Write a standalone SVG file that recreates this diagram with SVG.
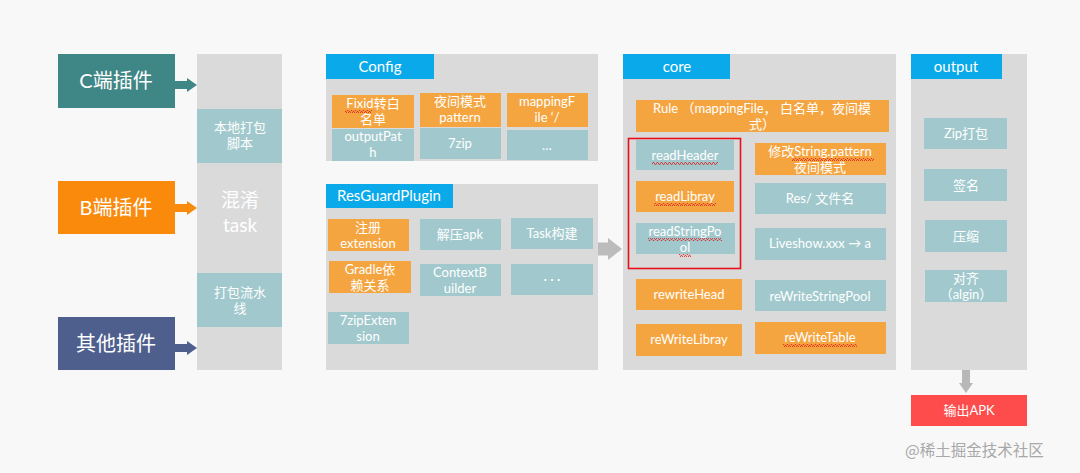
<svg xmlns="http://www.w3.org/2000/svg" width="1080" height="473" viewBox="0 0 1080 473">
<defs>
<style>
.bg{fill:#f8f8f8}
.panel{fill:#dadada}
.hdr{fill:#0aa9ea}
.teal{fill:#a1c9cd}
.org{fill:#f5a540}
.t{font-family:Lato,"Noto Sans","Noto Sans CJK SC",sans-serif;fill:#ffffff;text-anchor:middle}
.s{font-size:13px}
.h{font-size:15px}
.big{font-size:20px}
.sq{fill:url(#squig)}
</style>
<pattern id="squig" width="4" height="3" patternUnits="userSpaceOnUse">
<path d="M0,2.5 L1,0.5 L2,0.5 L3,2.5 L4,2.5" fill="none" stroke="#e02020" stroke-width="0.8"/>
</pattern>
</defs>
<rect class="bg" x="0" y="0" width="1080" height="473"/>

<g id="connectors">
<path d="M175,85 H188" stroke="#3f8686" stroke-width="8" fill="none"/>
<path d="M187,78 L197,85 L187,92 z" fill="#3f8686"/>
<path d="M175,208 H188" stroke="#f98a0c" stroke-width="8" fill="none"/>
<path d="M187,201 L197,208 L187,215 z" fill="#f98a0c"/>
<path d="M175,348 H188" stroke="#4e5f8e" stroke-width="8" fill="none"/>
<path d="M187,341 L197,348 L187,355 z" fill="#4e5f8e"/>
<path d="M598,249 H609" stroke="#bcbcbc" stroke-width="13" fill="none"/>
<path d="M608,238 L622,249 L608,260 z" fill="#bcbcbc"/>
<path d="M966,370 V384" stroke="#b8b8b8" stroke-width="8" fill="none"/>
<path d="M959,383 L966,393 L973,383 z" fill="#b8b8b8"/>
</g>

<g id="c-plugin"><rect x="58" y="54" width="117" height="54" fill="#3f8686"/><text class="t big" x="116" y="88">C端插件</text></g>
<g id="b-plugin"><rect x="58" y="181" width="117" height="53" fill="#f98a0c"/><text class="t big" x="116" y="215">B端插件</text></g>
<g id="other-plugin"><rect x="58" y="317" width="117" height="53" fill="#4e5f8e"/><text class="t big" x="116" y="351">其他插件</text></g>

<g id="task-column">
<rect class="panel" x="197" y="54" width="85" height="316"/>
<rect class="teal" x="197" y="109" width="85" height="54"/>
<text class="t s" x="240" y="132">本地打包</text><text class="t s" x="240" y="148">脚本</text>
<text class="t" x="240" y="207" font-size="19">混淆</text>
<text class="t" x="240" y="232" font-size="19">task</text>
<rect class="teal" x="197" y="273" width="85" height="54"/>
<text class="t s" x="240" y="297">打包流水</text><text class="t s" x="240" y="313">线</text>
</g>

<g id="config">
<rect class="panel" x="326" y="54" width="272" height="107"/>
<rect class="hdr" x="326" y="54" width="108" height="25"/>
<text class="t h" x="380" y="72">Config</text>
<rect class="org" x="332" y="95" width="82" height="33"/>
<text class="t s" x="373" y="108">Fixid转白</text><text class="t s" x="373" y="124">名单</text>
<rect class="sq" x="345" y="110" width="27" height="3"/>
<rect class="org" x="420" y="93" width="81" height="34"/>
<text class="t s" x="460" y="106">夜间模式</text><text class="t s" x="460" y="122">pattern</text>
<rect class="org" x="507" y="93" width="81" height="34"/>
<text class="t s" x="547" y="106">mappingF</text><text class="t s" x="547" y="122">ile ‘/</text>
<rect class="teal" x="332" y="129" width="82" height="32"/>
<text class="t s" x="373" y="141">outputPat</text><text class="t s" x="373" y="157">h</text>
<rect class="teal" x="420" y="128" width="81" height="31"/>
<text class="t s" x="460" y="148">7zip</text>
<rect class="teal" x="507" y="130" width="81" height="30"/>
<text class="t s" x="547" y="150">…</text>
</g>

<g id="resguard">
<rect class="panel" x="326" y="184" width="272" height="186"/>
<rect class="hdr" x="326" y="184" width="127" height="24"/>
<text class="t h" x="389" y="201">ResGuardPlugin</text>
<rect class="org" x="328" y="219" width="81" height="32"/>
<text class="t s" x="368" y="232">注册</text><text class="t s" x="368" y="248">extension</text>
<rect class="teal" x="420" y="219" width="81" height="31"/>
<text class="t s" x="460" y="239">解压apk</text>
<rect class="teal" x="511" y="218" width="82" height="31"/>
<text class="t s" x="552" y="238">Task构建</text>
<rect class="org" x="329" y="261" width="82" height="32"/>
<text class="t s" x="370" y="274">Gradle依</text><text class="t s" x="370" y="290">赖关系</text>
<rect class="teal" x="420" y="264" width="81" height="32"/>
<text class="t s" x="460" y="277">ContextB</text><text class="t s" x="460" y="293">uilder</text>
<rect class="teal" x="511" y="264" width="82" height="31"/>
<text class="t s" x="552" y="284">·   ·   ·</text>
<rect class="teal" x="328" y="312" width="81" height="32"/>
<text class="t s" x="368" y="325">7zipExten</text><text class="t s" x="368" y="341">sion</text>
</g>

<g id="core">
<rect class="panel" x="623" y="54" width="273" height="316"/>
<rect class="hdr" x="623" y="54" width="107" height="25"/>
<text class="t h" x="677" y="72">core</text>
<rect class="org" x="636" y="100" width="253" height="32"/>
<text class="t s" x="762" y="113">Rule （mappingFile， 白名单，夜间模</text><text class="t s" x="762" y="129">式）</text>
<rect class="teal" x="636" y="140" width="98" height="30"/>
<text class="t s" x="685" y="160">readHeader</text>
<rect class="sq" x="652" y="162" width="66" height="3"/>
<rect class="org" x="636" y="181" width="98" height="31"/>
<text class="t s" x="685" y="201">readLibray</text>
<rect class="sq" x="654" y="203" width="62" height="3"/>
<rect class="teal" x="636" y="223" width="99" height="31"/>
<text class="t s" x="685" y="236">readStringPo</text><text class="t s" x="685" y="252">ol</text>
<rect class="sq" x="648" y="238" width="74" height="3"/>
<rect class="sq" x="679" y="254" width="12" height="3"/>
<rect x="628.5" y="138.5" width="112" height="130" fill="none" stroke="#e8101a" stroke-width="1.6"/>
<rect class="org" x="755" y="143" width="131" height="32"/>
<text class="t s" x="820" y="156">修改String.pattern</text><text class="t s" x="820" y="172">夜间模式</text>
<rect class="sq" x="792" y="158" width="82" height="3"/>
<rect class="teal" x="755" y="183" width="131" height="31"/>
<text class="t s" x="820" y="203">Res/ 文件名</text>
<rect class="teal" x="755" y="228" width="131" height="32"/>
<text class="t s" x="820" y="248">Liveshow.xxx → a</text>
<rect class="org" x="636" y="279" width="106" height="31"/>
<text class="t s" x="689" y="299">rewriteHead</text>
<rect class="teal" x="755" y="280" width="131" height="31"/>
<text class="t s" x="820" y="301">reWriteStringPool</text>
<rect class="org" x="755" y="322" width="131" height="32"/>
<text class="t s" x="820" y="342">reWriteTable</text>
<rect class="sq" x="783" y="344" width="74" height="3"/>
<rect class="org" x="636" y="324" width="106" height="32"/>
<text class="t s" x="689" y="344">reWriteLibray</text>
</g>

<g id="output">
<rect class="panel" x="911" y="54" width="116" height="316"/>
<rect class="hdr" x="911" y="54" width="91" height="25"/>
<text class="t h" x="956" y="72">output</text>
<rect class="teal" x="924" y="118" width="83" height="31"/>
<text class="t s" x="966" y="138">Zip打包</text>
<rect class="teal" x="924" y="169" width="83" height="32"/>
<text class="t s" x="966" y="190">签名</text>
<rect class="teal" x="925" y="220" width="82" height="32"/>
<text class="t s" x="966" y="241">压缩</text>
<rect class="teal" x="925" y="270" width="82" height="32"/>
<text class="t s" x="966" y="283">对齐</text><text class="t s" x="966" y="299">（algin）</text>
</g>

<g id="output-apk"><rect x="911" y="395" width="116" height="31" fill="#fe4b4b"/><text class="t s" x="969" y="415">输出APK</text></g>

<text x="905" y="456" font-family="'Noto Sans CJK SC',sans-serif" font-size="15.5" fill="#a8a8a8">@稀土掘金技术社区</text>
</svg>
